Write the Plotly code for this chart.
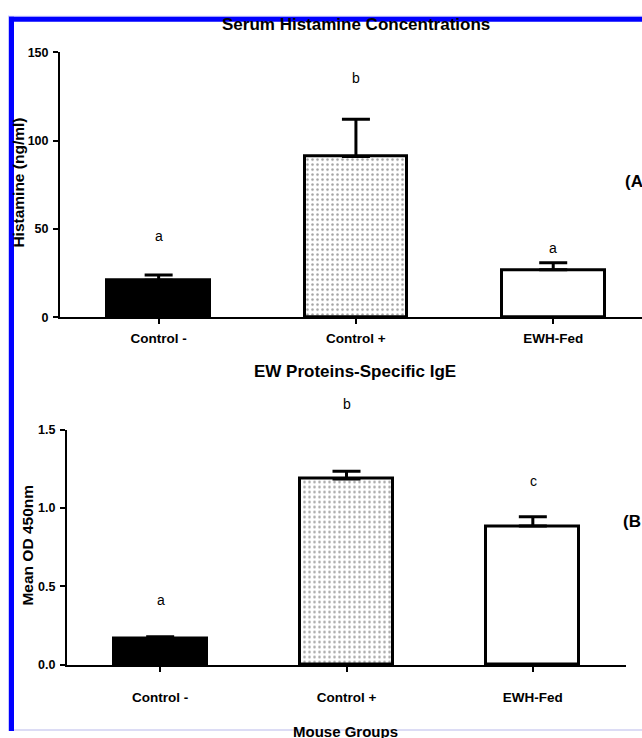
import plotly.graph_objects as go

W, H = 642, 738

groups = ["Control -", "Control +", "EWH-Fed"]

# Panel A: Serum histamine (ng/ml)
hist_mean = [21, 91, 27]
hist_err = [3, 21, 4]
hist_letters = ["a", "b", "a"]

# Panel B: EW proteins-specific IgE (OD 450nm)
ige_mean = [0.17, 1.185, 0.885]
ige_err = [0.01, 0.05, 0.06]
ige_letters = ["a", "b", "c"]

FONT = "Liberation Sans, Arial, sans-serif"


def px(x):
    return x / W


def py(y):
    return 1 - y / H


fill_colors = ["black", "white", "white"]
pattern_shapes = ["", ".", ""]

fig = go.Figure()

fig.add_trace(go.Bar(
    x=[0, 1, 2], y=hist_mean, width=0.52,
    marker=dict(color=fill_colors, line=dict(color="black", width=3),
                pattern=dict(shape=pattern_shapes, fgcolor="#666", bgcolor="white",
                             size=5, solidity=0.2)),
    error_y=dict(type="data", array=hist_err, arrayminus=[0, 0, 0], symmetric=False,
                 color="black", thickness=3, width=14),
    xaxis="x", yaxis="y", showlegend=False,
))

fig.add_trace(go.Bar(
    x=[0, 1, 2], y=ige_mean, width=0.5,
    marker=dict(color=fill_colors, line=dict(color="black", width=3),
                pattern=dict(shape=pattern_shapes, fgcolor="#666", bgcolor="white",
                             size=5, solidity=0.2)),
    error_y=dict(type="data", array=ige_err, arrayminus=[0, 0, 0], symmetric=False,
                 color="black", thickness=3, width=14),
    xaxis="x2", yaxis="y2", showlegend=False,
))

axis_common = dict(showline=True, linecolor="black", linewidth=2, ticks="outside",
                   tickcolor="black", tickwidth=2, ticklen=5, showgrid=False,
                   zeroline=False)
xtick_font = dict(family=FONT, size=13.5, color="black", weight="bold")
ytick_font = dict(family=FONT, size=12.5, color="black", weight="bold")

fig.update_layout(
    width=W, height=H,
    margin=dict(l=0, r=0, t=0, b=0),
    paper_bgcolor="white", plot_bgcolor="white",
    bargap=0,
    xaxis=dict(domain=[px(60), 1], range=[-0.5, 2.45], anchor="y",
               tickmode="array", tickvals=[0, 1, 2], ticktext=groups,
               ticklabelstandoff=2, tickfont=xtick_font, **axis_common),
    yaxis=dict(domain=[py(316.5), py(46)], range=[0, 150], anchor="x",
               tickvals=[0, 50, 100, 150], ticklabelstandoff=2, tickfont=ytick_font,
               **axis_common),
    xaxis2=dict(domain=[px(67), px(626)], range=[-0.5, 2.5], anchor="y2",
                tickmode="array", tickvals=[0, 1, 2], ticktext=groups,
                ticklabelstandoff=14, tickfont=xtick_font, **axis_common),
    yaxis2=dict(domain=[py(670.7), py(430.7)], range=[0, 1.5], anchor="x2",
                tickvals=[0, 0.5, 1.0, 1.5], tickformat=".1f", ticklabelstandoff=2,
                tickfont=ytick_font, **axis_common),
)

title_font = dict(family=FONT, size=17, color="black", weight="bold")
ytitle_font = dict(family=FONT, size=15.5, color="black", weight="bold")
letter_font = dict(family=FONT, size=14, color="black")

ann = []
# titles
ann.append(dict(text="Serum Histamine Concentrations", x=px(356), y=py(18),
                xref="paper", yref="paper", showarrow=False, font=title_font,
                xanchor="center", yanchor="middle"))
ann.append(dict(text="EW Proteins-Specific IgE", x=px(355), y=py(372),
                xref="paper", yref="paper", showarrow=False, font=title_font,
                xanchor="center", yanchor="middle"))
# y-axis titles
ann.append(dict(text="Histamine (ng/ml)", x=px(19), y=py(179), textangle=-90,
                xref="paper", yref="paper", showarrow=False, font=ytitle_font,
                xanchor="center", yanchor="middle"))
ann.append(dict(text="Mean OD 450nm", x=px(28), y=py(549), textangle=-90,
                xref="paper", yref="paper", showarrow=False, font=ytitle_font,
                xanchor="center", yanchor="middle"))
# x-axis title (bottom, cut by edge)
ann.append(dict(text="Mouse Groups", x=px(346), y=py(728), xref="paper", yref="paper",
                showarrow=False, font=dict(family=FONT, size=15, color="black", weight="bold"),
                xanchor="center", yanchor="top"))
# panel labels
ann.append(dict(text="(A", x=px(623), y=py(178), xref="paper", yref="paper",
                showarrow=False, font=title_font, xanchor="left", yanchor="middle"))
ann.append(dict(text="(B", x=px(621), y=py(524), xref="paper", yref="paper",
                showarrow=False, font=title_font, xanchor="left", yanchor="middle"))

# significance letters (pixel heights above each bar)
letter_py_a = [233, 72, 246]
centers_a = [159, 356, 553]
for t, cx, yy in zip(hist_letters, centers_a, letter_py_a):
    ann.append(dict(text=t, x=px(cx), y=py(yy), xref="paper", yref="paper",
                    showarrow=False, font=letter_font,
                    xanchor="center", yanchor="middle"))
letter_py_b = [604, 405, 483]
centers_b = [161, 347, 533]
for t, cx, yy in zip(ige_letters, centers_b, letter_py_b):
    ann.append(dict(text=t, x=px(cx), y=py(yy), xref="paper", yref="paper",
                    showarrow=False, font=letter_font,
                    xanchor="center", yanchor="middle"))

fig.update_layout(annotations=ann)

# blue frame (top and left), with light edge
shapes = [
    dict(type="rect", xref="paper", yref="paper", x0=px(8), x1=1, y0=py(10), y1=py(9),
         fillcolor="#c8c8ff", line=dict(width=0), layer="above"),
    dict(type="rect", xref="paper", yref="paper", x0=px(8), x1=px(9), y0=0, y1=py(9),
         fillcolor="#c8c8ff", line=dict(width=0), layer="above"),
    dict(type="rect", xref="paper", yref="paper", x0=px(9), x1=1, y0=py(15), y1=py(10),
         fillcolor="#0000ff", line=dict(width=0), layer="above"),
    dict(type="rect", xref="paper", yref="paper", x0=px(9), x1=px(14), y0=0, y1=py(10),
         fillcolor="#0000ff", line=dict(width=0), layer="above"),
    dict(type="rect", xref="paper", yref="paper", x0=px(14), x1=1, y0=0, y1=py(736),
         fillcolor="#dcdcf5", line=dict(width=0), layer="above"),
]
fig.update_layout(shapes=shapes)

fig.write_html(
    "out.html",
    config={"displayModeBar": False},
    post_script="document.body.style.margin='0';document.body.style.overflow='hidden';",
)
